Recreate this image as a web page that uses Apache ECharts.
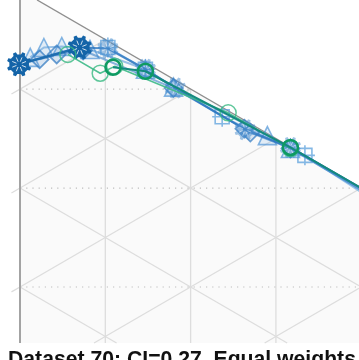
<!DOCTYPE html>
<html>
<head>
<meta charset="utf-8">
<script src="https://cdn.jsdelivr.net/npm/echarts@6/dist/echarts.min.js"></script>
<style>
html, body { margin: 0; padding: 0; background: #fff; }
#chart { width: 359px; height: 360px; }
</style>
</head>
<body>
<div id="chart"></div>
<script>
// Chart caption
const titleText = 'Dataset 70: CI=0.27, Equal weights';

// Points in lattice units: u = columns to the right, v = rows downward
const wheelMain  = [[-0.01, 0.75], [0.70, 0.58]];
const wheelTrail = [[0.70, 0.58], [1.03, 0.59], [1.47, 0.80], [1.82, 0.99], [2.64, 1.41], [3.17, 1.59], [4.60, 2.30]];
const triPts     = [[0.12, 0.68], [0.28, 0.58], [0.49, 0.57], [0.82, 0.60], [1.47, 0.80], [1.80, 0.98], [2.90, 1.47], [3.17, 1.60], [4.60, 2.33]];
const diaPts     = [[0.23, 0.70], [0.43, 0.65], [0.74, 0.61], [1.80, 0.99], [2.63, 1.40], [2.70, 1.44], [3.17, 1.60], [4.60, 2.32]];
const sqPts      = [[1.03, 0.58], [1.47, 0.80], [2.37, 1.28], [3.34, 1.67], [4.60, 2.38]];
const greenDark  = [[1.09, 0.78], [1.47, 0.82], [3.17, 1.59], [4.60, 2.30]];
const greenLight = [[0.56, 0.65], [0.94, 0.84], [1.11, 0.77], [2.44, 1.24], [3.17, 1.60]];

// Plot region extents in lattice units
const U_MIN = -0.2345, U_MAX = 3.974, V_TOP = 0.1, V_BOT = 3.566;

function polar(angDeg, r) {
  const a = angDeg * Math.PI / 180;
  return [(10 + r * Math.cos(a)).toFixed(2), (10 + r * Math.sin(a)).toFixed(2)];
}
// Wheel-shaped marker body and its white spokes
function wheelBodyPath() {
  const pts = [];
  for (let k = 0; k < 8; k++) {
    const a = k * 45 + 22.5;
    pts.push(polar(a - 12, 8), polar(a - 7, 10), polar(a + 7, 10), polar(a + 12, 8));
  }
  return 'path://M' + pts.map(p => p.join(',')).join('L') + 'Z';
}
const SPOKE_R = 6.2;
function wheelSpokePath() {
  let d = '';
  for (let k = 0; k < 8; k++) {
    const a = k * 45 + 22.5;
    d += 'M' + polar(a, 2.4).join(',') + 'L' + polar(a, SPOKE_R).join(',');
  }
  return 'path://' + d;
}
const spokeScale = (2 * SPOKE_R * Math.cos(22.5 * Math.PI / 180)) / (2 * 10 * Math.cos(5 * Math.PI / 180));
const squareCross = 'path://M3,3L17,3L17,17L3,17Z M10,0L10,20 M0,10L20,10';

// Background: shaded region, triangular lattice, dotted rows, frame lines
function renderLattice(params, api) {
  const c = (u, v) => api.coord([u, v]);
  const children = [];
  const line = (a, b, style) => {
    const p = c(a[0], a[1]), q = c(b[0], b[1]);
    children.push({ type: 'line', shape: { x1: p[0], y1: p[1], x2: q[0], y2: q[1] }, style: style });
  };
  const grid = { stroke: '#dddddd', lineWidth: 1.3, fill: null };
  const dotted = { stroke: '#bdbdbd', lineWidth: 1.2, lineDash: [1.2, 5], fill: null };

  const poly = [c(0, V_TOP), c(2 * V_TOP, V_TOP), c(U_MAX, U_MAX / 2), c(U_MAX, V_BOT), c(0, V_BOT)];
  children.push({ type: 'polygon', shape: { points: poly }, style: { fill: '#fafafa' } });

  // vertical lattice lines
  for (let u = 1; u <= 3; u++) line([u, u / 2], [u, V_BOT], grid);
  // descending lattice lines v = k + u/2
  for (let k = 1; k <= 3; k++) {
    const uEnd = Math.min(U_MAX, 2 * (V_BOT - k));
    line([0, k], [uEnd, k + uEnd / 2], grid);
  }
  // ascending lattice lines v = k - u/2
  for (let k = 1; k <= 5; k++) {
    const uStart = Math.max(0, 2 * (k - V_BOT));
    const uEnd = Math.min(U_MAX, k);
    if (uEnd > uStart) line([uStart, k - uStart / 2], [uEnd, k - uEnd / 2], grid);
    if (k <= 3) line([0, k], [-0.1, k + 0.05], grid);
  }
  // dotted rows
  for (let v = 1; v <= 3; v++) line([0, v], [Math.min(U_MAX, 2 * v), v], dotted);
  // frame: left edge and slanted edge
  line([0, V_TOP], [0, V_BOT], { stroke: '#a3a3a3', lineWidth: 2, fill: null });
  line([2 * V_TOP, V_TOP], [U_MAX, U_MAX / 2], { stroke: '#8f8f8f', lineWidth: 1.4, fill: null });
  return { type: 'group', children: children };
}

const chart = echarts.init(document.getElementById('chart'), null, { renderer: 'canvas' });

function lineSeries(name, data, opts) {
  return Object.assign({
    name: name, type: 'line', data: data, showSymbol: true, clip: true,
    animation: false, silent: true
  }, opts);
}

const wheelSizeMain = 24, wheelSizeTrail = 21;

chart.setOption({
  animation: false,
  title: {
    text: titleText, left: 3, top: 345,
    textStyle: { fontFamily: 'Liberation Sans, Arial, sans-serif', fontWeight: 'bold', fontSize: 21.2, color: '#111' }
  },
  grid: { left: 0, right: 0, top: 0, bottom: 17, containLabel: false },
  xAxis: { type: 'value', min: U_MIN, max: U_MAX, show: false },
  yAxis: { type: 'value', min: V_TOP, max: V_BOT, inverse: true, show: false },
  series: [
    {
      type: 'custom', coordinateSystem: 'cartesian2d', data: [[0, 0]], clip: false,
      renderItem: renderLattice, silent: true, z: 0
    },
    lineSeries('sq', sqPts, {
      symbol: squareCross, symbolSize: 20, z: 2,
      itemStyle: { color: 'rgba(255,255,255,0)', borderColor: 'rgba(91,160,220,0.75)', borderWidth: 1.6 },
      lineStyle: { color: 'rgba(120,180,230,0.7)', width: 2 }
    }),
    lineSeries('tri', triPts, {
      symbol: 'triangle', symbolSize: 18, z: 2,
      itemStyle: { color: 'rgba(110,170,225,0.18)', borderColor: 'rgba(80,150,215,0.7)', borderWidth: 1.6 },
      lineStyle: { color: 'rgba(90,155,215,0.6)', width: 2 }
    }),
    lineSeries('dia', diaPts, {
      symbol: 'diamond', symbolSize: 18, z: 3,
      itemStyle: { color: 'rgba(80,140,205,0.2)', borderColor: 'rgba(55,125,195,0.75)', borderWidth: 1.7 },
      lineStyle: { color: 'rgba(60,130,200,0.6)', width: 2 }
    }),
    lineSeries('wheelTrail', wheelTrail, {
      symbol: wheelBodyPath(), symbolSize: wheelSizeTrail, z: 3,
      itemStyle: { color: 'rgba(70,140,205,0.5)' },
      lineStyle: { color: 'rgba(40,115,190,0.8)', width: 2.2 }
    }),
    {
      type: 'scatter', data: wheelTrail, symbol: wheelSpokePath(), symbolSize: wheelSizeTrail * spokeScale, z: 4, silent: true,
      itemStyle: { color: 'rgba(255,255,255,0)', borderColor: 'rgba(255,255,255,0.7)', borderWidth: 0.9 }
    },
    lineSeries('wheelMain', wheelMain, {
      symbol: wheelBodyPath(), symbolSize: wheelSizeMain, z: 5,
      itemStyle: { color: '#1464a8' },
      lineStyle: { color: '#1f6db0', width: 2.5 }
    }),
    {
      type: 'scatter', data: wheelMain, symbol: wheelSpokePath(), symbolSize: wheelSizeMain * spokeScale, z: 6, silent: true,
      itemStyle: { color: 'rgba(255,255,255,0)', borderColor: '#ffffff', borderWidth: 1 }
    },
    lineSeries('greenLight', greenLight, {
      symbol: 'circle', symbolSize: 16, z: 7,
      itemStyle: { color: 'rgba(255,255,255,0)', borderColor: 'rgba(55,185,130,0.8)', borderWidth: 1.5 },
      lineStyle: { color: 'rgba(60,185,135,0.9)', width: 1.5 }
    }),
    lineSeries('greenDark', greenDark, {
      symbol: 'circle', symbolSize: 15, z: 8,
      itemStyle: { color: 'rgba(255,255,255,0)', borderColor: '#0e9a62', borderWidth: 2.5 },
      lineStyle: { color: '#148a7e', width: 2 }
    })
  ]
});
</script>
</body>
</html>
